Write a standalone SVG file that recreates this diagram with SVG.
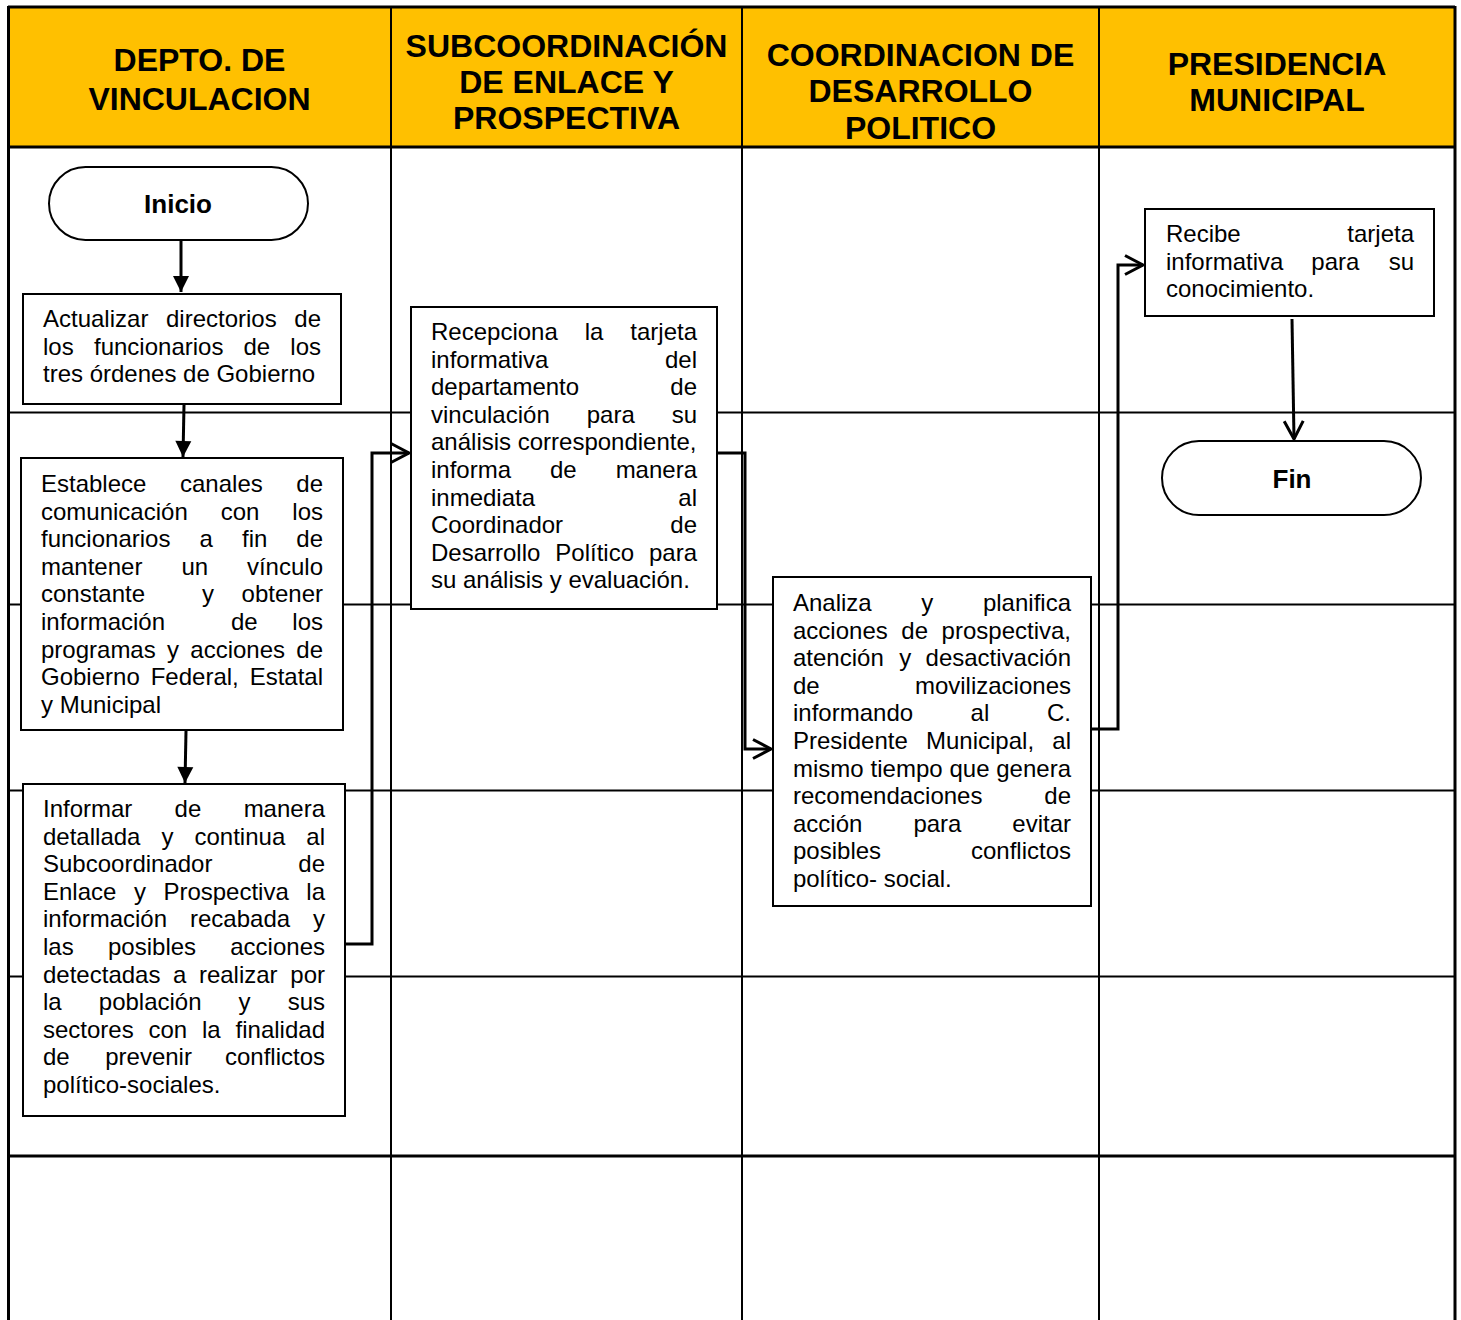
<svg xmlns="http://www.w3.org/2000/svg" width="1461" height="1320" viewBox="0 0 1461 1320">
<style>
.t{font-family:"Liberation Sans",Arial,sans-serif;font-size:24px;fill:#000}
.r{text-anchor:end}
.h{font-family:"Liberation Sans",Arial,sans-serif;font-weight:bold;font-size:32px;text-anchor:middle;fill:#000}
.term{font-family:"Liberation Sans",Arial,sans-serif;font-weight:bold;font-size:26px;text-anchor:middle;fill:#000}
.box{fill:#fff;stroke:#000;stroke-width:2}
.grid{stroke:#000;stroke-width:2;fill:none}
.thick{stroke:#000;stroke-width:3;fill:none}
.conn{fill:none;stroke:#000;stroke-width:3}
</style>
<defs>
<marker id="fill" markerUnits="userSpaceOnUse" markerWidth="16" markerHeight="18" refX="16" refY="8" orient="auto" overflow="visible">
<path d="M0,0 L16,8 L0,16 Z" fill="#000"/>
</marker>
<marker id="open" markerUnits="userSpaceOnUse" markerWidth="20" markerHeight="20" refX="18" refY="9.5" orient="auto" overflow="visible">
<path d="M0,0 L18,9.5 L0,19" fill="none" stroke="#000" stroke-width="3"/>
</marker>
</defs>
<rect x="0" y="0" width="1461" height="1320" fill="#fff"/>
<g id="grid">
<rect x="8" y="7" width="1447" height="140" fill="#FFC000"/>
<line class="thick" x1="8" y1="7" x2="1455" y2="7"/>
<line class="thick" x1="8" y1="147" x2="1455" y2="147"/>
<line class="grid" x1="8" y1="412.5" x2="1455" y2="412.5"/>
<line class="grid" x1="8" y1="604.5" x2="1455" y2="604.5"/>
<line class="grid" x1="8" y1="790.5" x2="1455" y2="790.5"/>
<line class="grid" x1="8" y1="976.5" x2="1455" y2="976.5"/>
<line class="thick" x1="8" y1="1156" x2="1455" y2="1156"/>
<line class="thick" x1="8.5" y1="6" x2="8.5" y2="1320"/>
<line class="grid" x1="391" y1="6" x2="391" y2="1320"/>
<line class="grid" x1="742" y1="6" x2="742" y2="1320"/>
<line class="grid" x1="1099" y1="6" x2="1099" y2="1320"/>
<line class="thick" x1="1455" y1="6" x2="1455" y2="1320"/>
</g>
<g id="headers">
<text class="h" x="199.5" y="70.5">DEPTO. DE</text>
<text class="h" x="199.5" y="109.5">VINCULACION</text>
<text class="h" x="566.5" y="56.5">SUBCOORDINACIÓN</text>
<text class="h" x="566.5" y="92.5">DE ENLACE Y</text>
<text class="h" x="566.5" y="128.5">PROSPECTIVA</text>
<text class="h" x="920.5" y="65.5">COORDINACION DE</text>
<text class="h" x="920.5" y="101.5">DESARROLLO</text>
<text class="h" x="920.5" y="138.5">POLITICO</text>
<text class="h" x="1277" y="74.5">PRESIDENCIA</text>
<text class="h" x="1277" y="110.5">MUNICIPAL</text>
</g>
<g id="connectors">
<line class="conn" x1="181" y1="241" x2="181" y2="292" marker-end="url(#fill)"/>
<line class="conn" x1="184" y1="405" x2="183" y2="457" marker-end="url(#fill)"/>
<line class="conn" x1="186" y1="731" x2="185" y2="783" marker-end="url(#fill)"/>
<polyline class="conn" points="345,944 372,944 372,453 409,453" marker-end="url(#open)"/>
<polyline class="conn" points="718,453 745,453 745,749 771,749" marker-end="url(#open)"/>
<polyline class="conn" points="1091,729 1118,729 1118,265 1143,265" marker-end="url(#open)"/>
<line class="conn" x1="1292" y1="319" x2="1294" y2="439" marker-end="url(#open)"/>
</g>
<g id="inicio">
<rect class="box" x="49" y="167" width="259" height="73" rx="36.5"/>
<text class="term" x="178" y="213">Inicio</text>
</g>
<g id="actualizar">
<rect class="box" x="23" y="294" width="318" height="110"/>
<text class="t" y="327"><tspan x="43">Actualizar</tspan><tspan x="166">directorios</tspan></text>
<text class="t r" x="321" y="327">de</text>
<text class="t" y="354.6"><tspan x="43">los</tspan><tspan x="94">funcionarios</tspan><tspan x="243.5">de</tspan></text>
<text class="t r" x="321" y="354.6">los</text>
<text class="t" x="43" y="382.2">tres órdenes de Gobierno</text>
</g>
<g id="establece">
<rect class="box" x="21" y="458" width="322" height="272"/>
<text class="t" y="492"><tspan x="41">Establece</tspan><tspan x="180">canales</tspan></text>
<text class="t r" x="323" y="492">de</text>
<text class="t" y="519.6"><tspan x="41">comunicación</tspan><tspan x="220.7">con</tspan></text>
<text class="t r" x="323" y="519.6">los</text>
<text class="t" y="547.2"><tspan x="41">funcionarios</tspan><tspan x="199.5">a</tspan><tspan x="242">fin</tspan></text>
<text class="t r" x="323" y="547.2">de</text>
<text class="t" y="574.8"><tspan x="41">mantener</tspan><tspan x="181.4">un</tspan></text>
<text class="t r" x="323" y="574.8">vínculo</text>
<text class="t" y="602.4"><tspan x="41">constante</tspan><tspan x="202">y</tspan></text>
<text class="t r" x="323" y="602.4">obtener</text>
<text class="t" y="630"><tspan x="41">información</tspan><tspan x="231">de</tspan></text>
<text class="t r" x="323" y="630">los</text>
<text class="t" y="657.6"><tspan x="41">programas</tspan><tspan x="167">y</tspan><tspan x="190.3">acciones</tspan></text>
<text class="t r" x="323" y="657.6">de</text>
<text class="t" y="685.2"><tspan x="41">Gobierno</tspan><tspan x="150.7">Federal,</tspan></text>
<text class="t r" x="323" y="685.2">Estatal</text>
<text class="t" x="41" y="712.8">y Municipal</text>
</g>
<g id="informar">
<rect class="box" x="23" y="784" width="322" height="332"/>
<text class="t" y="817"><tspan x="43">Informar</tspan><tspan x="174.6">de</tspan></text>
<text class="t r" x="325" y="817">manera</text>
<text class="t" y="844.6"><tspan x="43">detallada</tspan><tspan x="161.4">y</tspan><tspan x="194.5">continua</tspan></text>
<text class="t r" x="325" y="844.6">al</text>
<text class="t" x="43" y="872.2">Subcoordinador</text>
<text class="t r" x="325" y="872.2">de</text>
<text class="t" y="899.8"><tspan x="43">Enlace</tspan><tspan x="133.9">y</tspan><tspan x="163.4">Prospectiva</tspan></text>
<text class="t r" x="325" y="899.8">la</text>
<text class="t" y="927.4"><tspan x="43">información</tspan><tspan x="190">recabada</tspan></text>
<text class="t r" x="325" y="927.4">y</text>
<text class="t" y="955"><tspan x="43">las</tspan><tspan x="108">posibles</tspan></text>
<text class="t r" x="325" y="955">acciones</text>
<text class="t" y="982.6"><tspan x="43">detectadas</tspan><tspan x="173">a</tspan><tspan x="198.9">realizar</tspan></text>
<text class="t r" x="325" y="982.6">por</text>
<text class="t" y="1010.2"><tspan x="43">la</tspan><tspan x="98.8">población</tspan><tspan x="238.6">y</tspan></text>
<text class="t r" x="325" y="1010.2">sus</text>
<text class="t" y="1037.8"><tspan x="43">sectores</tspan><tspan x="148.5">con</tspan><tspan x="202">la</tspan></text>
<text class="t r" x="325" y="1037.8">finalidad</text>
<text class="t" y="1065.4"><tspan x="43">de</tspan><tspan x="105.2">prevenir</tspan></text>
<text class="t r" x="325" y="1065.4">conflictos</text>
<text class="t" x="43" y="1093">político-sociales.</text>
</g>
<g id="recepciona">
<rect class="box" x="411" y="307" width="306" height="302"/>
<text class="t" y="340"><tspan x="431">Recepciona</tspan><tspan x="584.7">la</tspan></text>
<text class="t r" x="697" y="340">tarjeta</text>
<text class="t" x="431" y="367.6">informativa</text>
<text class="t r" x="697" y="367.6">del</text>
<text class="t" x="431" y="395.2">departamento</text>
<text class="t r" x="697" y="395.2">de</text>
<text class="t" y="422.8"><tspan x="431">vinculación</tspan><tspan x="586.7">para</tspan></text>
<text class="t r" x="697" y="422.8">su</text>
<text class="t" x="431" y="450.4">análisis correspondiente,</text>
<text class="t" y="478"><tspan x="431">informa</tspan><tspan x="550">de</tspan></text>
<text class="t r" x="697" y="478">manera</text>
<text class="t" x="431" y="505.6">inmediata</text>
<text class="t r" x="697" y="505.6">al</text>
<text class="t" x="431" y="533.2">Coordinador</text>
<text class="t r" x="697" y="533.2">de</text>
<text class="t" y="560.8"><tspan x="431">Desarrollo</tspan><tspan x="555.3">Político</tspan></text>
<text class="t r" x="697" y="560.8">para</text>
<text class="t" x="431" y="588.4">su análisis y evaluación.</text>
</g>
<g id="analiza">
<rect class="box" x="773" y="577" width="318" height="329"/>
<text class="t" y="611"><tspan x="793">Analiza</tspan><tspan x="921.3">y</tspan></text>
<text class="t r" x="1071" y="611">planifica</text>
<text class="t" y="638.6"><tspan x="793">acciones</tspan><tspan x="901.3">de</tspan></text>
<text class="t r" x="1071" y="638.6">prospectiva,</text>
<text class="t" y="666.2"><tspan x="793">atención</tspan><tspan x="899.3">y</tspan></text>
<text class="t r" x="1071" y="666.2">desactivación</text>
<text class="t" x="793" y="693.8">de</text>
<text class="t r" x="1071" y="693.8">movilizaciones</text>
<text class="t" y="721.4"><tspan x="793">informando</tspan><tspan x="970.6">al</tspan></text>
<text class="t r" x="1071" y="721.4">C.</text>
<text class="t" y="749"><tspan x="793">Presidente</tspan><tspan x="926">Municipal,</tspan></text>
<text class="t r" x="1071" y="749">al</text>
<text class="t" y="776.6"><tspan x="793">mismo</tspan><tspan x="870.6">tiempo</tspan><tspan x="949.5">que</tspan></text>
<text class="t r" x="1071" y="776.6">genera</text>
<text class="t" x="793" y="804.2">recomendaciones</text>
<text class="t r" x="1071" y="804.2">de</text>
<text class="t" y="831.8"><tspan x="793">acción</tspan><tspan x="913.4">para</tspan></text>
<text class="t r" x="1071" y="831.8">evitar</text>
<text class="t" x="793" y="859.4">posibles</text>
<text class="t r" x="1071" y="859.4">conflictos</text>
<text class="t" x="793" y="887">político- social.</text>
</g>
<g id="recibe">
<rect class="box" x="1145" y="209" width="289" height="107"/>
<text class="t" x="1166" y="242">Recibe</text>
<text class="t r" x="1414" y="242">tarjeta</text>
<text class="t" y="269.6"><tspan x="1166">informativa</tspan><tspan x="1311.3">para</tspan></text>
<text class="t r" x="1414" y="269.6">su</text>
<text class="t" x="1166" y="297.2">conocimiento.</text>
</g>
<g id="fin">
<rect class="box" x="1162" y="441" width="259" height="74" rx="37"/>
<text class="term" x="1292" y="488">Fin</text>
</g>
</svg>
